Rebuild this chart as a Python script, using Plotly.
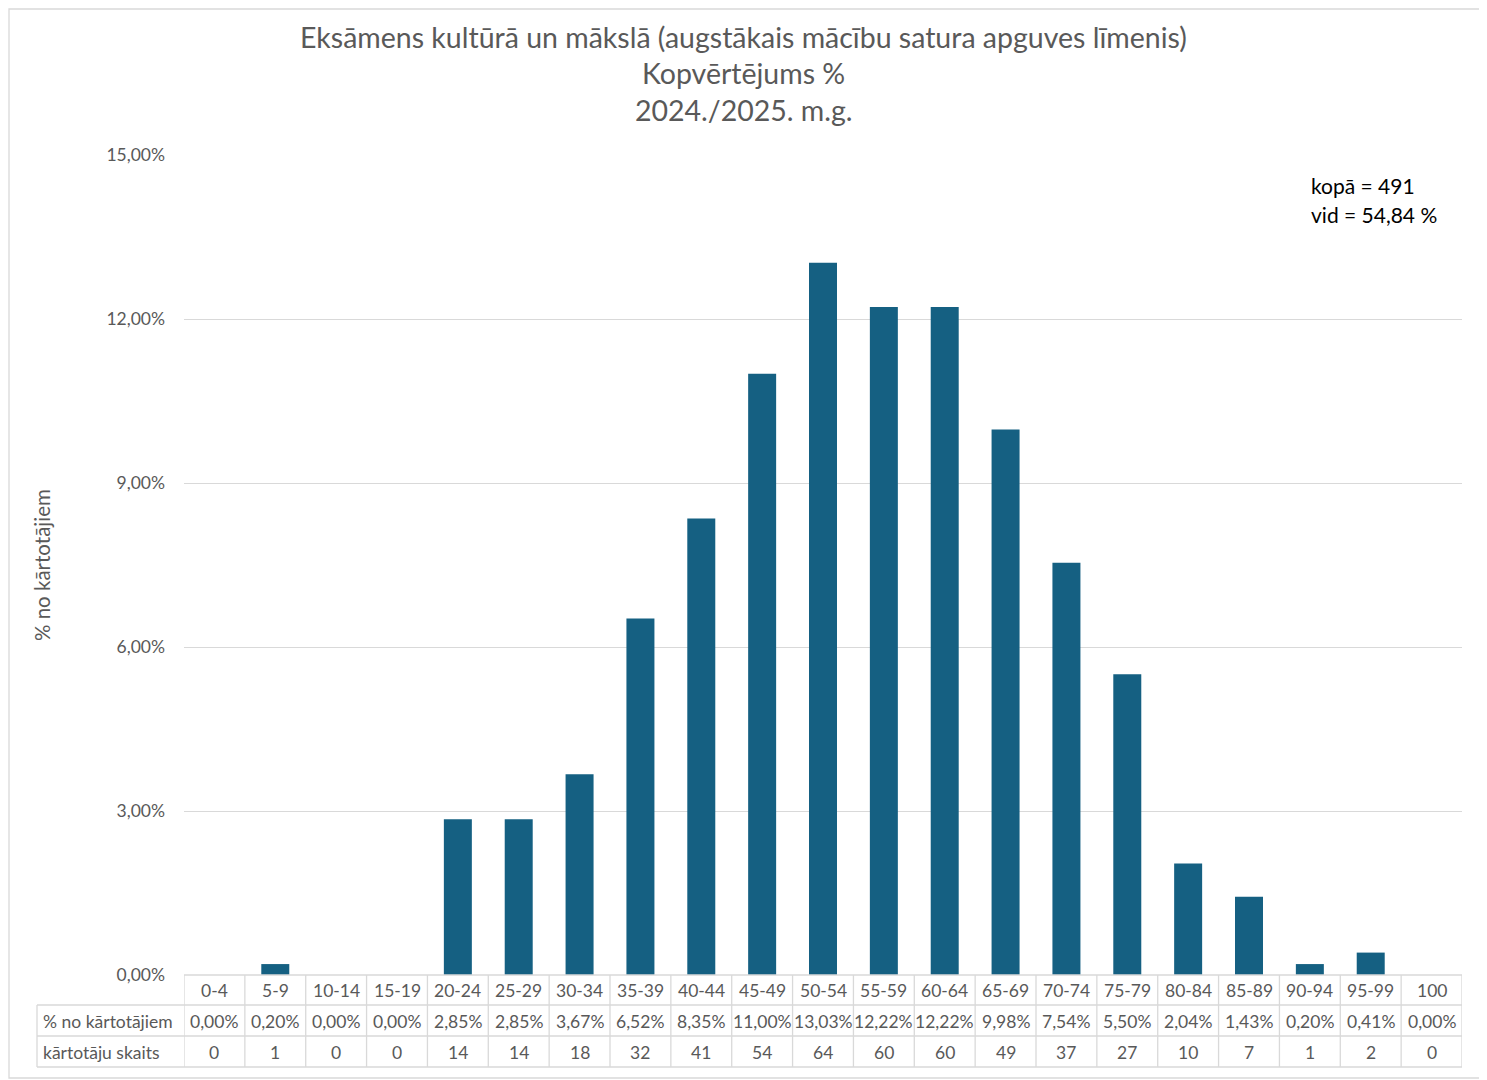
import plotly.graph_objects as go

bands = ['0-4', '5-9', '10-14', '15-19', '20-24', '25-29', '30-34', '35-39', '40-44', '45-49',
         '50-54', '55-59', '60-64', '65-69', '70-74', '75-79', '80-84', '85-89', '90-94', '95-99', '100']
share = [0.00, 0.20, 0.00, 0.00, 2.85, 2.85, 3.67, 6.52, 8.35, 11.00,
         13.03, 12.22, 12.22, 9.98, 7.54, 5.50, 2.04, 1.43, 0.20, 0.41, 0.00]
counts = [0, 1, 0, 0, 14, 14, 18, 32, 41, 54, 64, 60, 60, 49, 37, 27, 10, 7, 1, 2, 0]
row_names = ['% no kārtotājiem', 'kārtotāju skaits']
y_ticks = [0, 3, 6, 9, 12, 15]
title_lines = ['Eksāmens kultūrā un mākslā (augstākais mācību satura apguves līmenis)',
               'Kopvērtējums %', '2024./2025. m.g.']
info_lines = ['kopā = 491', 'vid = 54,84 %']

# the page puts the figure 8px in from the window corner, so work in window pixels minus that
OFF = 8
W, H = 1487 - OFF, 1080 - OFF
PLOT_L, PLOT_R, PLOT_T, PLOT_B = 184, 1462, 155, 975   # plot area, window pixels
L, T = PLOT_L - OFF, PLOT_T - OFF
R, B = W - (PLOT_R - OFF), H - (PLOT_B - OFF)
PW, PH = W - L - R, H - T - B
FONT = 'Lato'
GREY = '#595959'
LINE = '#d9d9d9'


def px_x(p):
    return (p - PLOT_L) / PW


def px_y(p):
    return (PLOT_B - p) / PH


def pct(v):
    return f'{v:.2f}%'.replace('.', ',')


fig = go.Figure(go.Bar(x=bands, y=share, marker=dict(color='#156082', line=dict(width=0)),
                       hoverinfo='x+y'))

shapes = []
annotations = []

# data table under the bars
row_y = [975, 1005, 1036, 1067]
for k, yy in enumerate(row_y):
    x0 = 0 if k == 0 else px_x(37)
    shapes.append(dict(type='line', xref='paper', yref='paper', x0=x0, x1=1, y0=px_y(yy), y1=px_y(yy),
                       line=dict(color=LINE, width=1.3)))
for i in range(len(bands) + 1):
    shapes.append(dict(type='line', xref='x', yref='paper', x0=i - 0.5, x1=i - 0.5,
                       y0=px_y(975), y1=px_y(1067), line=dict(color=LINE, width=1.3)))
shapes.append(dict(type='line', xref='paper', yref='paper', x0=px_x(37), x1=px_x(37),
                   y0=px_y(1005), y1=px_y(1067), line=dict(color=LINE, width=1.3)))

cell_font = dict(family=FONT, size=17.5, color=GREY)
for i, b in enumerate(bands):
    for yy, txt in zip([990, 1021, 1052], [b, pct(share[i]), str(counts[i])]):
        annotations.append(dict(x=i, xref='x', y=px_y(yy), yref='paper', text=txt, showarrow=False,
                                font=cell_font, xanchor='center', yanchor='middle'))
for yy, name in zip([1021, 1052], row_names):
    annotations.append(dict(x=px_x(41), xref='paper', y=px_y(yy), yref='paper', text=name, showarrow=False,
                            font=cell_font, xanchor='left', yanchor='middle'))

# y axis title
annotations.append(dict(x=px_x(42), xref='paper', y=0.5, yref='paper', text='% no kārtotājiem', textangle=-90,
                        showarrow=False, xanchor='center', yanchor='middle',
                        font=dict(family=FONT, size=20.5, color=GREY)))

# chart title, one line per annotation
for yy, line in zip([37, 73, 110], title_lines):
    annotations.append(dict(x=px_x(743.5), xref='paper', y=px_y(yy), yref='paper', text=line, showarrow=False,
                            xanchor='center', yanchor='middle', font=dict(family=FONT, size=28.5, color=GREY)))

# totals box
for yy, line in zip([185, 215], info_lines):
    annotations.append(dict(x=px_x(1309), xref='paper', y=px_y(yy), yref='paper', xanchor='left',
                            yanchor='middle', text=line, showarrow=False,
                            font=dict(family=FONT, size=21, color='black')))

# outer chart border (kept inside the figure's own edge)
shapes.append(dict(type='rect', xref='paper', yref='paper', x0=px_x(9), x1=px_x(1480), y0=px_y(1078), y1=px_y(9),
                   line=dict(color=LINE, width=1.3)))

fig.update_layout(
    width=W, height=H,
    margin=dict(l=L, r=R, t=T, b=B),
    paper_bgcolor='white', plot_bgcolor='white',
    bargap=0.54,
    showlegend=False,
    shapes=shapes,
    annotations=annotations,
)
fig.update_xaxes(type='category', range=[-0.5, len(bands) - 0.5], showticklabels=False, showgrid=False,
                 showline=False, zeroline=False, ticks='')
fig.update_yaxes(range=[0, 15], tickvals=y_ticks, ticktext=[pct(v) for v in y_ticks], showgrid=True,
                 gridcolor=LINE, gridwidth=1.3, zeroline=False, showline=False, ticks='',
                 ticklabelstandoff=18, tickfont=dict(family=FONT, size=17.5, color=GREY))

fig.write_html('out.html')
